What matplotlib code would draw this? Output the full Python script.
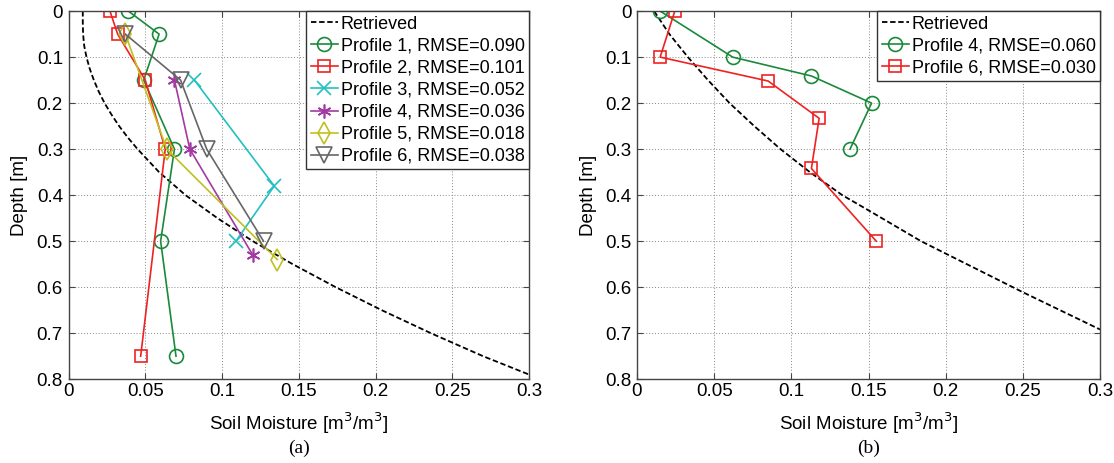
import matplotlib
matplotlib.use('Agg')
import matplotlib.pyplot as plt

plt.rcParams['font.family'] = ['Liberation Sans', 'DejaVu Sans']
plt.rcParams['font.size'] = 13

# ---- panel (a) data: (soil moisture, depth)
retA_x = [0.0093, 0.0093, 0.0095, 0.0102, 0.0117, 0.0138, 0.0165, 0.0197, 0.0235, 0.028, 0.033, 0.0387,
          0.045, 0.059, 0.0762, 0.097, 0.120, 0.146, 0.174, 0.204, 0.236, 0.270, 0.3]
retA_d = [0.0, 0.025, 0.05, 0.075, 0.1, 0.125, 0.15, 0.175, 0.2, 0.225, 0.25, 0.275,
          0.3, 0.35, 0.4, 0.45, 0.5, 0.55, 0.6, 0.65, 0.7, 0.75, 0.79]

p1_x = [0.039, 0.059, 0.049, 0.069, 0.060, 0.070]
p1_d = [0.0, 0.05, 0.15, 0.30, 0.50, 0.75]
p2_x = [0.027, 0.032, 0.050, 0.063, 0.047]
p2_d = [0.0, 0.05, 0.15, 0.30, 0.75]
p3_x = [0.082, 0.134, 0.109]
p3_d = [0.15, 0.38, 0.50]
p4_x = [0.069, 0.079, 0.120]
p4_d = [0.15, 0.30, 0.53]
p5_x = [0.037, 0.064, 0.136]
p5_d = [0.05, 0.30, 0.54]
p6_x = [0.037, 0.073, 0.090, 0.127]
p6_d = [0.05, 0.15, 0.30, 0.50]

# ---- panel (b) data
retB_x = [0.0111, 0.021, 0.033, 0.046, 0.060, 0.076, 0.093, 0.112, 0.133, 0.150, 0.184, 0.2, 0.25, 0.3]
retB_d = [0.0, 0.05, 0.1, 0.15, 0.2, 0.25, 0.3, 0.35, 0.4, 0.433, 0.5, 0.527, 0.611, 0.692]

b4_x = [0.015, 0.062, 0.113, 0.152, 0.138]
b4_d = [0.0, 0.10, 0.141, 0.20, 0.30]
b6_x = [0.0245, 0.015, 0.085, 0.118, 0.113, 0.155]
b6_d = [0.0, 0.10, 0.152, 0.233, 0.342, 0.50]

labelsA = ['Profile 1, RMSE=0.090', 'Profile 2, RMSE=0.101', 'Profile 3, RMSE=0.052',
           'Profile 4, RMSE=0.036', 'Profile 5, RMSE=0.018', 'Profile 6, RMSE=0.038']
labelsB = ['Profile 4, RMSE=0.060', 'Profile 6, RMSE=0.030']

xticks = [0, 0.05, 0.1, 0.15, 0.2, 0.25, 0.3]
xtick_labels = ['0', '0.05', '0.1', '0.15', '0.2', '0.25', '0.3']
yticks = [0, 0.1, 0.2, 0.3, 0.4, 0.5, 0.6, 0.7, 0.8]
ytick_labels = ['0', '0.1', '0.2', '0.3', '0.4', '0.5', '0.6', '0.7', '0.8']

green = '#1a8a3a'
red = '#ee2222'
cyan = '#22c0c0'
purple = '#a33aa3'
yellow = '#c0c020'
gray = '#666666'

fig = plt.figure(figsize=(11.14, 4.63), dpi=100)
axA = fig.add_axes([0.0615, 0.181, 0.4135, 0.795])
axB = fig.add_axes([0.5718, 0.181, 0.4157, 0.795])

def style(ax):
	ax.set_xlim(0, 0.3)
	ax.set_ylim(0.8, 0)
	ax.set_xticks(xticks)
	ax.set_xticklabels(xtick_labels)
	ax.set_yticks(yticks)
	ax.set_yticklabels(ytick_labels)
	ax.tick_params(direction='in', top=True, right=True, length=4, width=0.8, color='#444444', labelsize=13.5)
	ax.tick_params(axis='x', pad=3)
	ax.tick_params(axis='y', pad=4)
	ax.grid(True, linestyle=(0, (1, 2)), color='#888888', linewidth=0.7)
	for s in ax.spines.values():
		s.set_color('#444444')
		s.set_linewidth(1.0)
	ax.set_xlabel('Soil Moisture [m$^3$/m$^3$]', fontsize=13.5, labelpad=7)
	ax.set_ylabel('Depth [m]', fontsize=13.5, labelpad=6)

mk = dict(markerfacecolor='none', linewidth=1.2, markeredgewidth=1.2)

axA.plot(retA_x, retA_d, '--', color='black', linewidth=1.3, dashes=(3, 1.5), label='Retrieved')
axA.plot(p1_x, p1_d, '-o', color=green, markersize=10, label=labelsA[0], **mk)
axA.plot(p2_x, p2_d, '-s', color=red, markersize=9, label=labelsA[1], **mk)
axA.plot(p3_x, p3_d, '-x', color=cyan, markersize=10, label=labelsA[2], **mk)
axA.plot(p4_x, p4_d, '-', marker=(6, 2, 0), color=purple, markersize=10, label=labelsA[3], **mk)
axA.plot(p5_x, p5_d, '-d', color=yellow, markersize=11, label=labelsA[4], **mk)
axA.plot(p6_x, p6_d, '-v', color=gray, markersize=11, label=labelsA[5], **mk)
style(axA)

axB.plot(retB_x, retB_d, '--', color='black', linewidth=1.3, dashes=(3, 1.5), label='Retrieved')
axB.plot(b4_x, b4_d, '-o', color=green, markersize=10, label=labelsB[0], **mk)
axB.plot(b6_x, b6_d, '-s', color=red, markersize=9, label=labelsB[1], **mk)
style(axB)

for ax in (axA, axB):
	leg = ax.legend(loc='upper right', fontsize=13, borderaxespad=0, handlelength=1.5,
		handletextpad=0.15, borderpad=0.25, labelspacing=0.28, fancybox=False, framealpha=1)
	leg.get_frame().set_edgecolor('#333333')
	leg.get_frame().set_linewidth(1.0)

fig.text(0.268, 0.032, '(a)', ha='center', va='center', fontsize=14, family='Liberation Serif')
fig.text(0.7797, 0.032, '(b)', ha='center', va='center', fontsize=14, family='Liberation Serif')

fig.savefig('out.png', dpi=100)
